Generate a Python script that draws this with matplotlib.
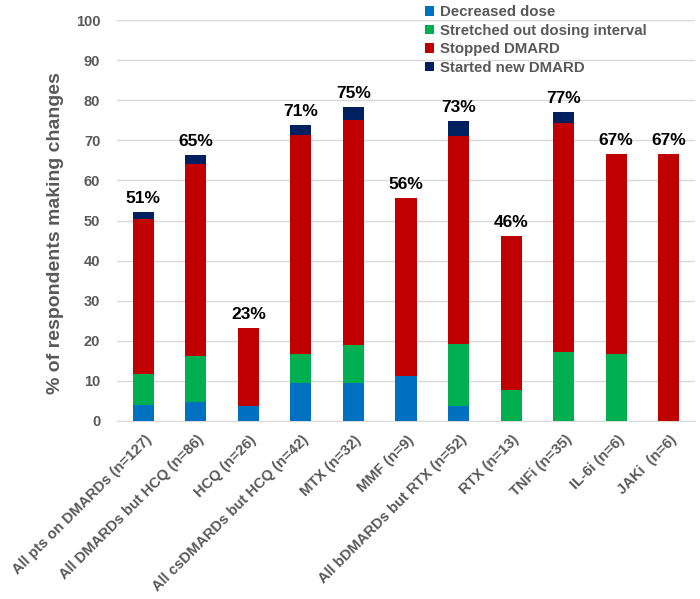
import matplotlib
matplotlib.use("Agg")
import matplotlib.pyplot as plt
import matplotlib.transforms as mtransforms
import numpy as np

plt.rcParams['font.family'] = ['Liberation Sans', 'DejaVu Sans']
plt.rcParams['font.weight'] = 'bold'

categories = ["All pts on DMARDs (n=127)", "All DMARDs but HCQ (n=86)", "HCQ (n=26)",
              "All csDMARDs but HCQ (n=42)", "MTX (n=32)", "MMF (n=9)",
              "All bDMARDs but RTX (n=52)", "RTX (n=13)", "TNFi (n=35)",
              "IL-6i (n=6)", "JAKi  (n=6)"]
decreased = [3.9, 4.7, 3.8, 9.5, 9.5, 11.1, 3.8, 0, 0, 0, 0]
stretched = [7.9, 11.6, 0, 7.1, 9.4, 0, 15.4, 7.7, 17.1, 16.7, 0]
stopped = [38.6, 47.7, 19.3, 54.8, 56.2, 44.4, 51.9, 38.5, 57.1, 50.0, 66.7]
started = [1.6, 2.3, 0, 2.4, 3.1, 0, 3.8, 0, 2.9, 0, 0]
pct_labels = ["51%", "65%", "23%", "71%", "75%", "56%", "73%", "46%", "77%", "67%", "67%"]
series_names = ["Decreased dose", "Stretched out dosing interval", "Stopped DMARD", "Started new DMARD"]
colors = ["#0070C0", "#00B050", "#C00000", "#002060"]

fig = plt.figure(figsize=(7, 5.99), dpi=100)
ax = fig.add_axes([117/700, 1-421/599, (695-117)/700, (421-20)/599])

x = np.arange(len(categories))
w = 0.4
bottom = np.zeros(len(categories))
handles = []
for vals, c, name in zip([decreased, stretched, stopped, started], colors, series_names):
    v = np.array(vals)
    b = ax.bar(x, v, w, bottom=bottom, color=c, label=name, zorder=3)
    handles.append(b)
    bottom += v

for xi, tot, lab in zip(x, bottom, pct_labels):
    ax.text(xi, tot + 1.5, lab, ha='center', va='bottom', fontsize=12.5,
            fontweight='bold', color='black')

ax.set_xlim(-0.5, 10.5)
ax.set_ylim(0, 100)
ax.set_yticks(np.arange(0, 101, 10))
ax.yaxis.grid(True, color='#D9D9D9', linewidth=1, zorder=0)
ax.tick_params(axis='y', length=0, labelsize=10.5, labelcolor='#595959', pad=12)
ax.tick_params(axis='x', length=0, labelsize=10.6, labelcolor='#595959', pad=12)
ax.set_xticks(x)
ax.set_xticklabels(categories, rotation=45, ha='right', va='center', rotation_mode='anchor')
offset = mtransforms.ScaledTranslation(6/100, 0, fig.dpi_scale_trans)
for lbl in ax.get_xticklabels():
    lbl.set_transform(lbl.get_transform() + offset)
for s in ['top', 'right', 'left']:
    ax.spines[s].set_visible(False)
ax.spines['bottom'].set_color('#D9D9D9')
ax.set_ylabel("% of respondents making changes", fontsize=14, fontweight='bold',
              color='#595959', va='center')
ax.yaxis.set_label_coords(-0.107, 0.469)

fig.legend(handles=handles, labels=series_names, loc='upper left',
           bbox_to_anchor=(412/700, 1.014), frameon=False,
           handlelength=0.6, handleheight=0.6, handletextpad=0.4,
           labelspacing=0.3, labelcolor='#595959',
           prop={'weight': 'bold', 'size': 10.8})

fig.savefig("out.png", dpi=100)
